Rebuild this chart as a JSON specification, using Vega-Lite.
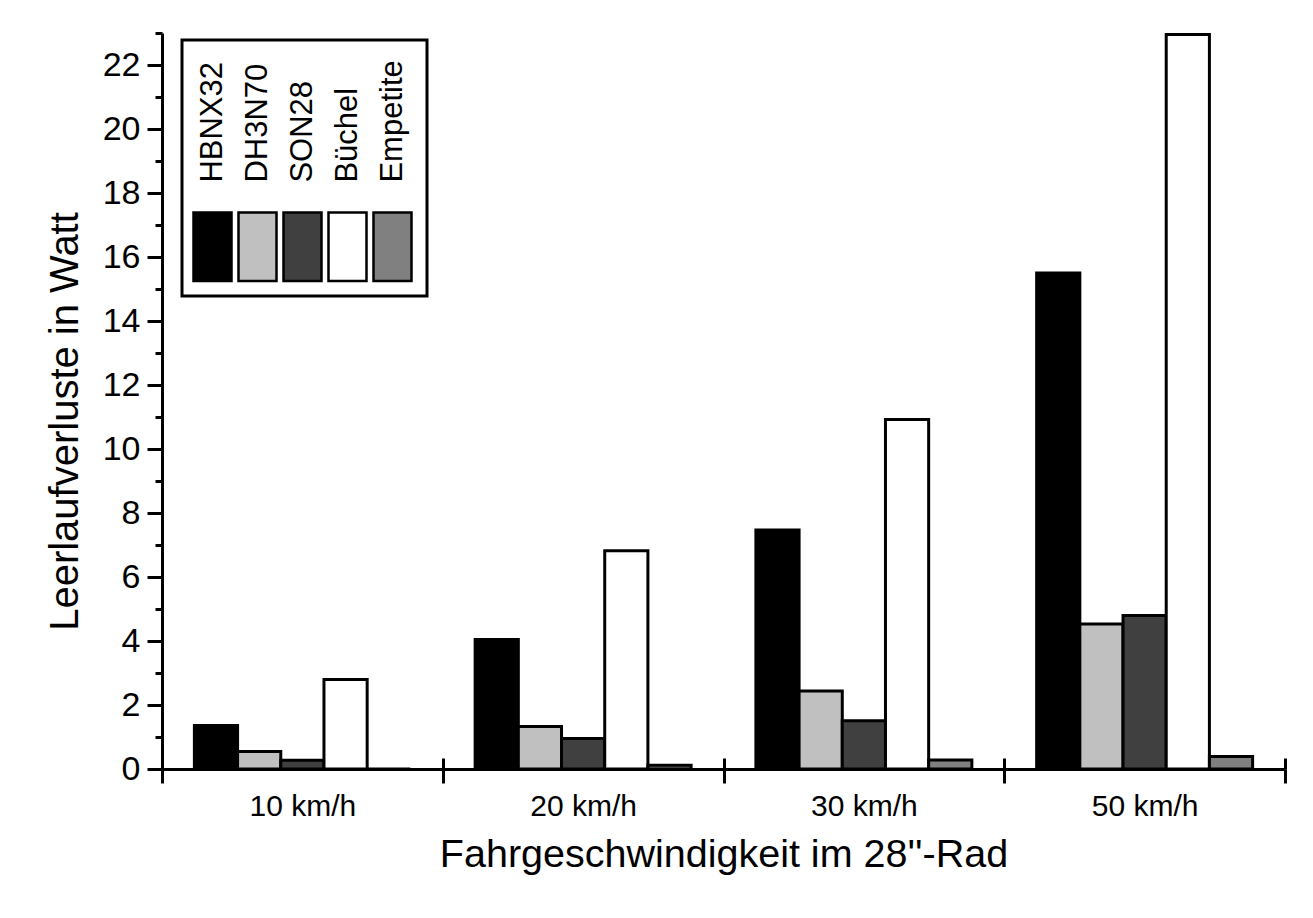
{
  "$schema": "https://vega.github.io/schema/vega-lite/v6.json",
  "width": 1123,
  "height": 736,
  "autosize": {"type": "none"},
  "padding": {"left": 162, "top": 33, "right": 28, "bottom": 149},
  "background": "white",
  "config": {
    "font": "Liberation Sans",
    "view": {"stroke": null},
    "axis": {
      "domainColor": "black",
      "domainWidth": 3,
      "tickColor": "black",
      "tickWidth": 3,
      "labelColor": "black",
      "titleColor": "black",
      "titleFontWeight": "normal",
      "grid": false
    }
  },
  "data": {
    "values": [
      {"speed": "10 km/h", "dynamo": "HBNX32", "watt": 1.36},
      {"speed": "10 km/h", "dynamo": "DH3N70", "watt": 0.55},
      {"speed": "10 km/h", "dynamo": "SON28", "watt": 0.27},
      {"speed": "10 km/h", "dynamo": "Büchel", "watt": 2.8},
      {"speed": "10 km/h", "dynamo": "Empetite", "watt": 0},
      {"speed": "20 km/h", "dynamo": "HBNX32", "watt": 4.05},
      {"speed": "20 km/h", "dynamo": "DH3N70", "watt": 1.33},
      {"speed": "20 km/h", "dynamo": "SON28", "watt": 0.95},
      {"speed": "20 km/h", "dynamo": "Büchel", "watt": 6.82},
      {"speed": "20 km/h", "dynamo": "Empetite", "watt": 0.12},
      {"speed": "30 km/h", "dynamo": "HBNX32", "watt": 7.47},
      {"speed": "30 km/h", "dynamo": "DH3N70", "watt": 2.44},
      {"speed": "30 km/h", "dynamo": "SON28", "watt": 1.51},
      {"speed": "30 km/h", "dynamo": "Büchel", "watt": 10.92},
      {"speed": "30 km/h", "dynamo": "Empetite", "watt": 0.28},
      {"speed": "50 km/h", "dynamo": "HBNX32", "watt": 15.5},
      {"speed": "50 km/h", "dynamo": "DH3N70", "watt": 4.53},
      {"speed": "50 km/h", "dynamo": "SON28", "watt": 4.8},
      {"speed": "50 km/h", "dynamo": "Büchel", "watt": 22.95},
      {"speed": "50 km/h", "dynamo": "Empetite", "watt": 0.39}
    ]
  },
  "layer": [
    {
      "mark": {"type": "bar", "stroke": "black", "strokeWidth": 3, "opacity": 1},
      "encoding": {
        "x": {
          "field": "speed",
          "type": "nominal",
          "sort": null,
          "scale": {"paddingInner": 0, "paddingOuter": 0},
          "axis": {
            "orient": "bottom",
            "tickBand": "extent",
            "tickSize": 14,
            "labelAngle": 0,
            "labelFontSize": 30,
            "labelPadding": 8,
            "title": "Fahrgeschwindigkeit im 28''-Rad",
            "titleFontSize": 39.5,
            "titlePadding": 14
          }
        },
        "xOffset": {
          "field": "dynamo",
          "type": "nominal",
          "scale": {
            "domain": ["HBNX32", "DH3N70", "SON28", "Büchel", "Empetite"],
            "paddingInner": 0,
            "paddingOuter": 0.75
          }
        },
        "y": {
          "field": "watt",
          "type": "quantitative",
          "stack": null,
          "scale": {"domain": [0, 23], "nice": false},
          "axis": {
            "orient": "left",
            "values": [0, 2, 4, 6, 8, 10, 12, 14, 16, 18, 20, 22],
            "tickSize": 15,
            "labelFontSize": 34,
            "labelPadding": 7,
            "title": "Leerlaufverluste in Watt",
            "titleFontSize": 40,
            "titleX": -77,
            "titleY": 388,
            "titleBaseline": "bottom"
          }
        },
        "color": {
          "field": "dynamo",
          "type": "nominal",
          "scale": {
            "domain": ["HBNX32", "DH3N70", "SON28", "Büchel", "Empetite"],
            "range": ["#000000", "#c0c0c0", "#404040", "#ffffff", "#808080"]
          },
          "legend": {
            "title": null,
            "orient": "none",
            "legendX": 20,
            "legendY": 7,
            "direction": "horizontal",
            "columns": 5,
            "columnPadding": -5.3,
            "padding": 10,
            "strokeColor": "black",
            "symbolType": "M-1,7.47H1V11.07H-1Z",
            "symbolSize": 1444,
            "symbolStrokeColor": "black",
            "symbolStrokeWidth": 2.5,
            "symbolOpacity": 1,
            "labelFontSize": 31,
            "labelColor": "black",
            "labelOffset": -20.5,
            "labelLimit": 300,
            "encode": {
              "labels": {
                "update": {
                  "angle": {"value": -90},
                  "dx": {"value": -112},
                  "align": {"value": "left"},
                  "baseline": {"value": "middle"}
                }
              },
              "legend": {
                "update": {"strokeWidth": {"value": 3}}
              }
            }
          }
        }
      }
    },
    {
      "mark": {"type": "point", "opacity": 0},
      "encoding": {
        "x": {
          "field": "speed",
          "type": "nominal",
          "sort": null,
          "axis": {
            "orient": "bottom",
            "tickBand": "extent",
            "offset": -11,
            "tickSize": 11,
            "labels": false,
            "domain": false,
            "title": null
          }
        },
        "y": {
          "field": "watt",
          "type": "quantitative",
          "axis": {
            "orient": "left",
            "values": [1, 3, 5, 7, 9, 11, 13, 15, 17, 19, 21, 23],
            "tickSize": 7,
            "labels": false,
            "domain": false,
            "title": null
          }
        }
      }
    }
  ],
  "resolve": {"axis": {"x": "independent", "y": "independent"}}
}
